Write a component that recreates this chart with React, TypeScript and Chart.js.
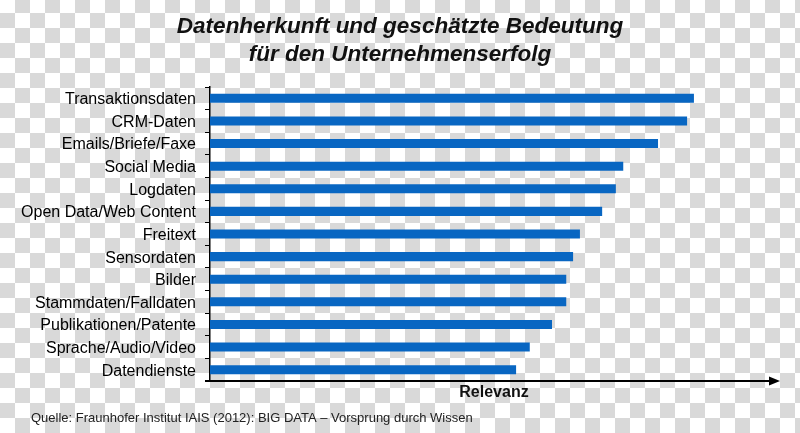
import React, { useEffect, useRef } from "react";
import { Chart, registerables } from "chart.js";

Chart.register(...registerables);

const categories = [
  "Transaktionsdaten",
  "CRM-Daten",
  "Emails/Briefe/Faxe",
  "Social Media",
  "Logdaten",
  "Open Data/Web Content",
  "Freitext",
  "Sensordaten",
  "Bilder",
  "Stammdaten/Falldaten",
  "Publikationen/Patente",
  "Sprache/Audio/Video",
  "Datendienste",
];

const relevance = [84.9, 83.7, 78.6, 72.5, 71.2, 68.8, 64.9, 63.7, 62.5, 62.5, 60.0, 56.1, 53.7];

const titleLines = ["Datenherkunft und geschätzte Bedeutung", "für den Unternehmenserfolg"];
const axisTitle = "Relevanz";
const sourceText = "Quelle: Fraunhofer Institut IAIS (2012): BIG DATA – Vorsprung durch Wissen";

const FONT = "'Liberation Sans', Arial, sans-serif";
const BAR_COLOR = "#0866c2";

const decorPlugin = {
  id: "decor",
  afterDraw(chart: any) {
    const { ctx, chartArea } = chart;
    const W = chart.width;
    ctx.save();
    // title
    ctx.fillStyle = "#111";
    ctx.font = `italic bold 22.5px ${FONT}`;
    ctx.textAlign = "center";
    ctx.textBaseline = "alphabetic";
    ctx.fillText(titleLines[0], W / 2, 33);
    ctx.fillText(titleLines[1], W / 2, 61);

    // x axis arrow
    const y = chartArea.bottom;
    ctx.strokeStyle = "#000";
    ctx.lineWidth = 2;
    ctx.beginPath();
    ctx.moveTo(chartArea.left - 5, y);
    ctx.lineTo(chartArea.right - 8, y);
    ctx.stroke();
    ctx.fillStyle = "#000";
    ctx.beginPath();
    ctx.moveTo(chartArea.right, y);
    ctx.lineTo(chartArea.right - 11, y - 4.5);
    ctx.lineTo(chartArea.right - 11, y + 4.5);
    ctx.closePath();
    ctx.fill();

    // axis title
    ctx.font = `bold 16px ${FONT}`;
    ctx.fillStyle = "#111";
    ctx.textAlign = "center";
    ctx.fillText(axisTitle, 494, 397);

    // source
    ctx.font = `13px ${FONT}`;
    ctx.fillStyle = "#222";
    ctx.textAlign = "left";
    ctx.fillText(sourceText, 31, 422);
    ctx.restore();
  },
};

export default function App() {
  const canvasRef = useRef<HTMLCanvasElement | null>(null);

  useEffect(() => {
    const canvas = canvasRef.current;
    if (!canvas) return;
    const chart = new Chart(canvas, {
      type: "bar",
      data: {
        labels: categories,
        datasets: [
          {
            data: relevance,
            backgroundColor: BAR_COLOR,
            borderWidth: 0,
            barPercentage: 0.4,
            categoryPercentage: 1,
          },
        ],
      },
      options: {
        indexAxis: "y",
        animation: false,
        responsive: false,
        devicePixelRatio: 1,
        layout: { padding: { top: 87, bottom: 52, left: 0, right: 20 } },
        plugins: {
          legend: { display: false },
          title: { display: false },
          tooltip: { enabled: false },
        },
        scales: {
          x: {
            display: false,
            min: 0,
            max: 100,
          },
          y: {
            afterFit: (scale: any) => {
              scale.width = 210;
            },
            grid: {
              display: true,
              offset: true,
              drawOnChartArea: false,
              drawTicks: true,
              tickLength: 5,
              color: "#000",
              lineWidth: 1,
            },
            border: { display: true, color: "#000", width: 1.5 },
            ticks: {
              color: "#000",
              padding: 9,
              labelOffset: 1.5,
              font: { family: FONT, size: 16 },
            },
          },
        },
      },
      plugins: [decorPlugin],
    });
    return () => chart.destroy();
  }, []);

  return (
    <div
      style={{
        position: "fixed",
        left: 0,
        top: 0,
        width: 800,
        height: 433,
        background: "repeating-conic-gradient(#d9d9d9 0% 25%, #ffffff 0% 50%) 0 -2px / 30px 30px",
      }}
    >
      <canvas ref={canvasRef} width={800} height={433} style={{ display: "block" }} />
    </div>
  );
}
